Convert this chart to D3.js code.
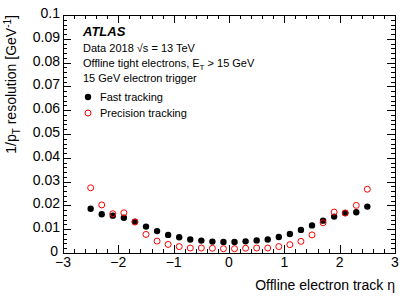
<!DOCTYPE html>
<html><head><meta charset="utf-8">
<script src="https://cdn.jsdelivr.net/npm/d3@7"></script>
<style>body{margin:0;background:#fff}svg{display:block}text{font-family:"Liberation Sans",Arial,sans-serif}</style>
</head><body>
<script>
const eta = [-2.5,-2.3,-2.1,-1.9,-1.7,-1.5,-1.3,-1.1,-0.9,-0.7,-0.5,-0.3,-0.1,0.1,0.3,0.5,0.7,0.9,1.1,1.3,1.5,1.7,1.9,2.1,2.3,2.5];
const fastTracking = [0.0186,0.0163,0.0157,0.0148,0.0132,0.0111,0.0092,0.0076,0.0066,0.0057,0.0052,0.0048,0.0046,0.0046,0.0049,0.0053,0.0057,0.0067,0.0080,0.0097,0.0116,0.0136,0.0153,0.0168,0.0171,0.0195];
const precisionTracking = [0.0274,0.0202,0.0165,0.0169,0.0130,0.0078,0.0050,0.0036,0.0027,0.0021,0.0021,0.0020,0.0018,0.0018,0.0020,0.0021,0.0021,0.0027,0.0035,0.0049,0.0076,0.0127,0.0172,0.0168,0.0200,0.0268];
const xTicks = [-3,-2,-1,0,1,2,3];
const yTicks = [0,0.01,0.02,0.03,0.04,0.05,0.06,0.07,0.08,0.09,0.1];
const yTickLabels = ["0","0.01","0.02","0.03","0.04","0.05","0.06","0.07","0.08","0.09","0.1"];

const W=415,H=298;
const L=63,R=395,T=15,B=253;
const svg=d3.select("body").append("svg").attr("width",W).attr("height",H);
const x=d3.scaleLinear().domain([-3,3]).range([L,R]);
const y=d3.scaleLinear().domain([0,0.1]).range([B,T]);

const xMinor=d3.range(-3,3.0001,0.2);
const yMinor=d3.range(0,0.10001,0.002);
const g=svg.append("g").attr("stroke","#000").attr("stroke-width",1).attr("shape-rendering","crispEdges");
// frame
g.append("rect").attr("x",L).attr("y",T).attr("width",R-L).attr("height",B-T).attr("fill","none");
// x ticks bottom & top
xMinor.forEach(v=>{
  const isMaj=Math.abs(v-Math.round(v))<1e-6;
  const len=isMaj?8:4;
  const px=Math.round(x(v))+0.5;
  g.append("line").attr("x1",px).attr("x2",px).attr("y1",B).attr("y2",B-len);
  g.append("line").attr("x1",px).attr("x2",px).attr("y1",T).attr("y2",T+len);
});
yMinor.forEach((v,i)=>{
  const isMaj=i%5===0;
  const len=isMaj?8:4;
  const py=Math.round(y(v))+0.5;
  g.append("line").attr("x1",L).attr("x2",L+len).attr("y1",py).attr("y2",py);
  g.append("line").attr("x1",R).attr("x2",R-len).attr("y1",py).attr("y2",py);
});
// tick labels
svg.append("g").selectAll("text").data(xTicks).join("text")
  .attr("x",d=>x(d)).attr("y",B+14).attr("text-anchor","middle").attr("font-size",14)
  .text(d=>d<0?"\u2212"+Math.abs(d):d);
svg.append("g").selectAll("text").data(yTicks).join("text")
  .attr("x",(d,i)=>i===0?L-5:L-3).attr("y",d=>y(d)+3).attr("text-anchor","end").attr("font-size",14)
  .text((d,i)=>yTickLabels[i]);
// axis titles
svg.append("text").attr("x",R).attr("y",290).attr("text-anchor","end").attr("font-size",14)
  .text("Offline electron track \u03b7");
const yt=svg.append("text").attr("transform",`translate(16,${T}) rotate(-90)`).attr("text-anchor","end").attr("font-size",14);
yt.append("tspan").text("1/p");
yt.append("tspan").attr("font-size",10).attr("dy",4).text("T");
yt.append("tspan").attr("dy",-4).text(" resolution [GeV");
yt.append("tspan").attr("font-size",10).attr("dy",-5).text("-1");
yt.append("tspan").attr("dy",5).text("]");

// data
svg.append("g").selectAll("circle").data(eta).join("circle")
  .attr("cx",d=>x(d)).attr("cy",(d,i)=>y(fastTracking[i])).attr("r",3.2).attr("fill","#000");
svg.append("g").selectAll("circle").data(eta).join("circle")
  .attr("cx",d=>x(d)).attr("cy",(d,i)=>y(precisionTracking[i])).attr("r",3).attr("fill","none").attr("stroke","#f00").attr("stroke-width",1);

// labels
svg.append("text").attr("x",83).attr("y",36).attr("font-size",13).attr("font-weight","bold").attr("font-style","italic").text("ATLAS");
const t1=svg.append("text").attr("x",83).attr("y",52).attr("font-size",11);
t1.append("tspan").text("Data 2018 \u221As = 13 TeV");
const t2=svg.append("text").attr("x",83).attr("y",67).attr("font-size",11);
t2.append("tspan").text("Offline tight electrons, E");
t2.append("tspan").attr("font-size",8).attr("dy",3).text("T");
t2.append("tspan").attr("dy",-3).text(" > 15 GeV");
svg.append("text").attr("x",83).attr("y",82).attr("font-size",11).text("15 GeV electron trigger");
svg.append("circle").attr("cx",88).attr("cy",97).attr("r",3.2).attr("fill","#000");
svg.append("text").attr("x",100).attr("y",101).attr("font-size",11).text("Fast tracking");
svg.append("circle").attr("cx",88).attr("cy",113).attr("r",3).attr("fill","none").attr("stroke","#f00");
svg.append("text").attr("x",100).attr("y",117).attr("font-size",11).text("Precision tracking");
</script>
</body></html>
